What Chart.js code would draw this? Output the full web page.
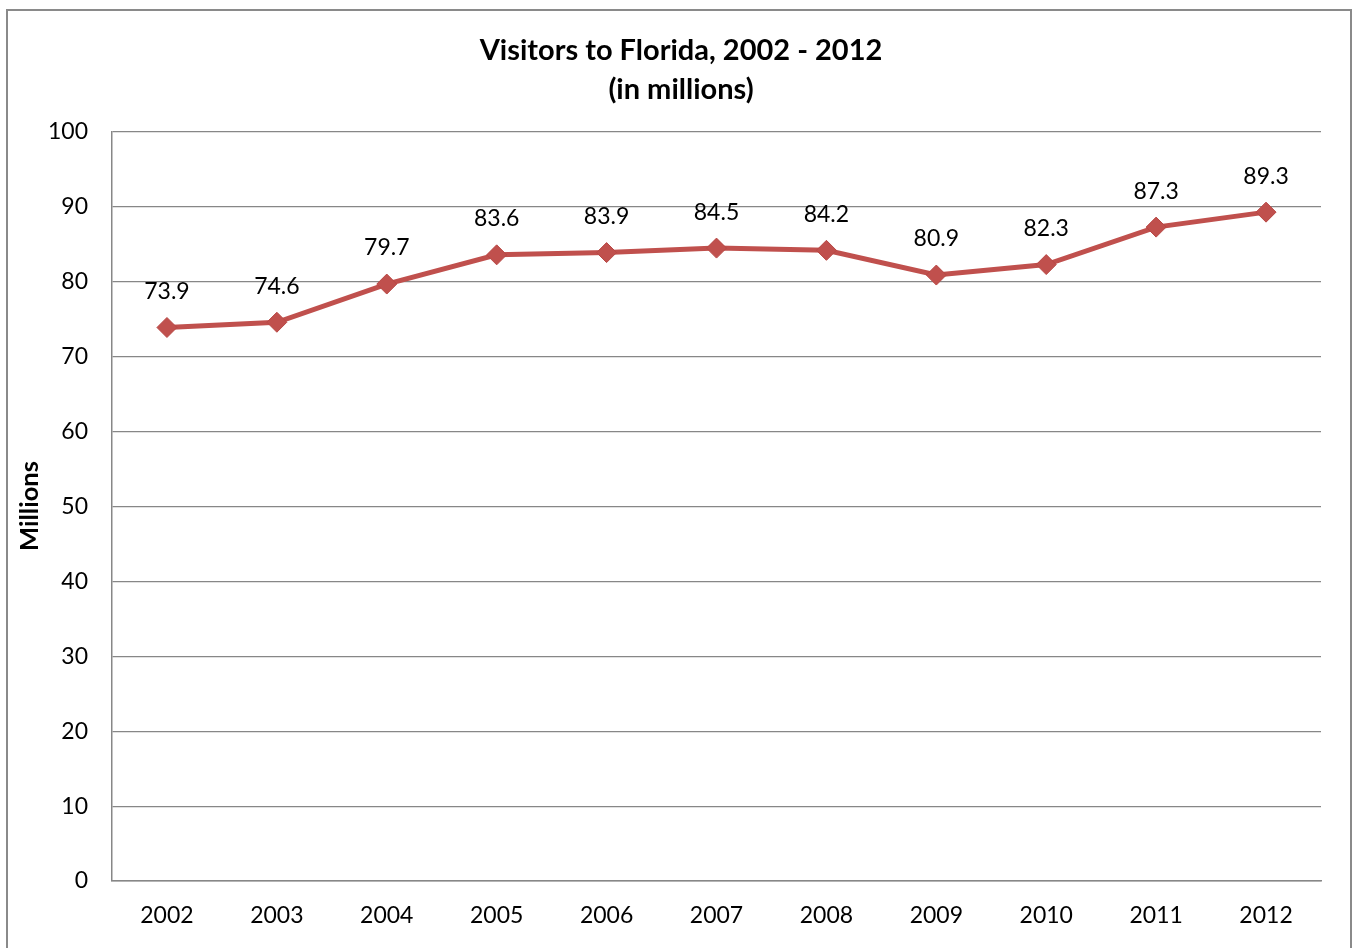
<!DOCTYPE html>
<html>
<head>
<meta charset="utf-8">
<title>Visitors to Florida, 2002 - 2012</title>
<script src="https://cdn.jsdelivr.net/npm/chart.js@4/dist/chart.umd.min.js"></script>
<style>
    html, body { margin: 0; padding: 0; background: #fff; overflow: hidden; }
    #wrap { position: relative; width: 1356px; height: 948px; }
    #frame {
        position: absolute; left: 6px; top: 9px; width: 1346px; height: 960px;
        border: 2px solid #8a8a8a; box-sizing: border-box; pointer-events: none;
    }
    canvas { position: absolute; left: 0; top: 0; }
</style>
</head>
<body>
<div id="wrap">
    <canvas id="visitorsChart" width="1356" height="948"></canvas>
    <div id="frame"></div>
</div>
<script>
// Annual visitors, millions
const years = ['2002', '2003', '2004', '2005', '2006', '2007', '2008', '2009', '2010', '2011', '2012'];
const visitors = [73.9, 74.6, 79.7, 83.6, 83.9, 84.5, 84.2, 80.9, 82.3, 87.3, 89.3];
const titleLines = ['Visitors to Florida, 2002 - 2012', '(in millions)'];
const yAxisTitle = 'Millions';

const FONT = 'Lato, "Open Sans", sans-serif';
const GRID = '#878787';

// title, rotated axis title and value labels above each marker
const annotations = {
    id: 'annotations',
    afterDatasetsDraw(chart) {
        const ctx = chart.ctx;
        const meta = chart.getDatasetMeta(0);
        ctx.save();
        ctx.fillStyle = '#000';
        ctx.textAlign = 'center';
        ctx.textBaseline = 'middle';
        ctx.font = '23px ' + FONT;
        meta.data.forEach((pt, i) => {
            ctx.fillText(visitors[i].toFixed(1), pt.x, pt.y - 36);
        });

        ctx.font = 'bold 29px ' + FONT;
        ctx.fillText(titleLines[0], 681, 51);
        ctx.fillText(titleLines[1], 681, 90);

        ctx.translate(30, 506);
        ctx.rotate(-Math.PI / 2);
        ctx.font = 'bold 25.5px ' + FONT;
        ctx.fillText(yAxisTitle, 0, 0);
        ctx.restore();
    }
};

new Chart(document.getElementById('visitorsChart'), {
    type: 'line',
    data: {
        labels: years,
        datasets: [{
            data: visitors,
            borderColor: '#C0504D',
            backgroundColor: '#C0504D',
            borderWidth: 5,
            pointStyle: 'rectRot',
            pointRadius: 10,
            pointBorderWidth: 1,
            pointBorderColor: '#B84744',
            tension: 0
        }]
    },
    options: {
        responsive: false,
        animation: false,
        layout: { padding: { top: 132, right: 35, left: 0, bottom: 0 } },
        plugins: {
            legend: { display: false },
            title: { display: false },
            tooltip: { enabled: false }
        },
        scales: {
            x: {
                offset: true,
                grid: { display: false, drawTicks: false },
                border: { display: true, color: GRID, width: 1.5 },
                ticks: { color: '#000', font: { family: FONT, size: 23 }, padding: 21, maxRotation: 0 },
                afterFit(scale) { scale.height = 67; }
            },
            y: {
                min: 0,
                max: 100,
                ticks: { stepSize: 10, color: '#000', font: { family: FONT, size: 23 }, padding: 24 },
                grid: { color: GRID, lineWidth: 1.2, drawTicks: false },
                border: { display: true, color: GRID, width: 1.5 },
                afterFit(scale) { scale.width = 112; }
            }
        }
    },
    plugins: [annotations]
});
</script>
</body>
</html>
